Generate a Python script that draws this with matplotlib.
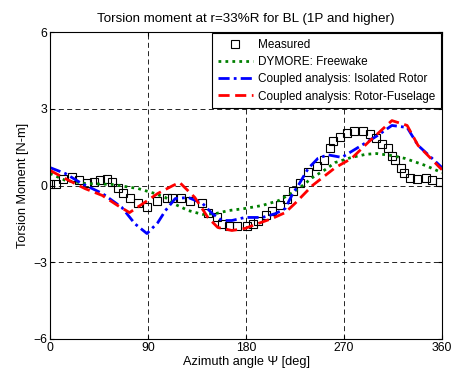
import numpy as np
import matplotlib
matplotlib.use("Agg")
import matplotlib.pyplot as plt

plt.rcParams['font.family'] = ['Liberation Sans', 'DejaVu Sans']

# measured torsion moment
meas_psi = [0, 5, 12, 20, 27, 34, 40, 46, 52, 57, 62, 67, 73, 81, 89, 98, 107, 112,
            120, 129, 140, 145, 153, 158, 164, 172, 181, 186, 191, 198, 204, 211,
            218, 223, 230, 237, 245, 252, 257, 260, 266, 273, 279, 287, 294, 299,
            305, 310, 314, 317, 322, 325, 331, 337, 345, 351, 358]
meas_val = [0.04, 0.04, 0.27, 0.35, 0.23, 0.08, 0.12, 0.23, 0.25, 0.15, -0.08, -0.31,
            -0.5, -0.7, -0.86, -0.59, -0.47, -0.47, -0.47, -0.59, -0.7, -1.06, -1.25,
            -1.49, -1.57, -1.57, -1.57, -1.49, -1.37, -1.17, -0.98, -0.78, -0.51, -0.2,
            0.08, 0.51, 0.78, 1.0, 1.45, 1.76, 1.88, 2.07, 2.15, 2.15, 2.03, 1.84,
            1.64, 1.45, 1.17, 0.98, 0.70, 0.47, 0.31, 0.27, 0.31, 0.23, 0.12]

# DYMORE free wake
dym_psi = [0, 14, 32, 57, 81, 96, 106, 115, 127, 140, 152, 164, 179, 195, 210, 223,
           232, 241, 252, 262, 277, 290, 300, 314, 326, 345, 360]
dym_val = [0.47, 0.2, 0.08, 0.04, -0.12, -0.31, -0.47, -0.74, -0.98, -1.13, -1.1,
           -0.98, -0.9, -0.78, -0.59, -0.27, 0.0, 0.31, 0.6, 0.9, 1.1, 1.22, 1.25,
           1.17, 1.06, 0.78, 0.5]

# coupled analysis, isolated rotor
iso_psi = [0, 14, 29, 48, 66, 78, 89, 99, 106, 115, 127, 140, 149, 158, 167, 179,
           195, 207, 216, 223, 228, 237, 246, 255, 268, 283, 301, 314, 328, 338, 351, 360]
iso_val = [0.7, 0.47, 0.08, -0.31, -0.86, -1.5, -1.88, -1.45, -0.98, -0.51, -0.47,
           -0.7, -1.1, -1.37, -1.37, -1.25, -1.25, -1.1, -0.9, -0.31, 0.0, 0.66,
           1.06, 1.2, 1.1, 1.49, 1.96, 2.35, 2.27, 1.57, 1.06, 0.7]

# coupled analysis, rotor-fuselage
fus_psi = [0, 14, 32, 48, 62, 73, 87, 99, 113, 119, 133, 145, 154, 167, 179, 191,
           204, 216, 225, 241, 262, 277, 292, 314, 328, 338, 358, 360]
fus_val = [0.59, 0.27, -0.12, -0.39, -0.78, -1.06, -0.66, -0.31, 0.0, 0.12, -0.47,
           -1.25, -1.64, -1.76, -1.68, -1.49, -1.29, -1.06, -0.7, 0.0, 0.7, 1.06,
           1.68, 2.54, 2.35, 1.57, 0.7, 0.62]

fig = plt.figure(figsize=(4.51, 3.74), dpi=100)
ax = fig.add_axes([0.111, 0.094, 0.869, 0.820])

ax.plot(meas_psi, meas_val, ls='none', marker='s', ms=6, mfc='none', mec='black',
        mew=0.8, label='Measured')
ax.plot(dym_psi, dym_val, color='#008000', ls=(0, (1, 1.5)), lw=2,
        label='DYMORE: Freewake')
ax.plot(iso_psi, iso_val, color='#0000ff', ls=(0, (4, 1.5, 1, 1.5)), lw=2,
        label='Coupled analysis: Isolated Rotor')
ax.plot(fus_psi, fus_val, color='#ff0000', ls=(0, (4, 2)), lw=2,
        label='Coupled analysis: Rotor-Fuselage')

ax.set_xlim(0, 360)
ax.set_ylim(-6, 6)
ax.set_xticks([0, 90, 180, 270, 360])
ax.set_yticks([-6, -3, 0, 3, 6])
ax.tick_params(direction='in', top=True, right=True, labelsize=8.8, length=3, pad=2)
ax.grid(True, color='black', ls=(0, (6, 4)), lw=0.6)
for s in ax.spines.values():
    s.set_linewidth(0.8)

ax.set_title('Torsion moment at r=33%R for BL (1P and higher)', fontsize=9.6, pad=7)
ax.set_xlabel('Azimuth angle \u03a8 [deg]', fontsize=9.2, labelpad=2)
ax.set_ylabel('Torsion Moment [N-m]', fontsize=9.2, labelpad=3)

leg = ax.legend(loc='upper right', fontsize=8.5, fancybox=False, framealpha=1,
                edgecolor='black', borderaxespad=0.1, handlelength=3.0,
                handletextpad=0.45, labelspacing=0.45, borderpad=0.45)
leg.get_frame().set_linewidth(0.8)

fig.savefig('out.png', dpi=100)
